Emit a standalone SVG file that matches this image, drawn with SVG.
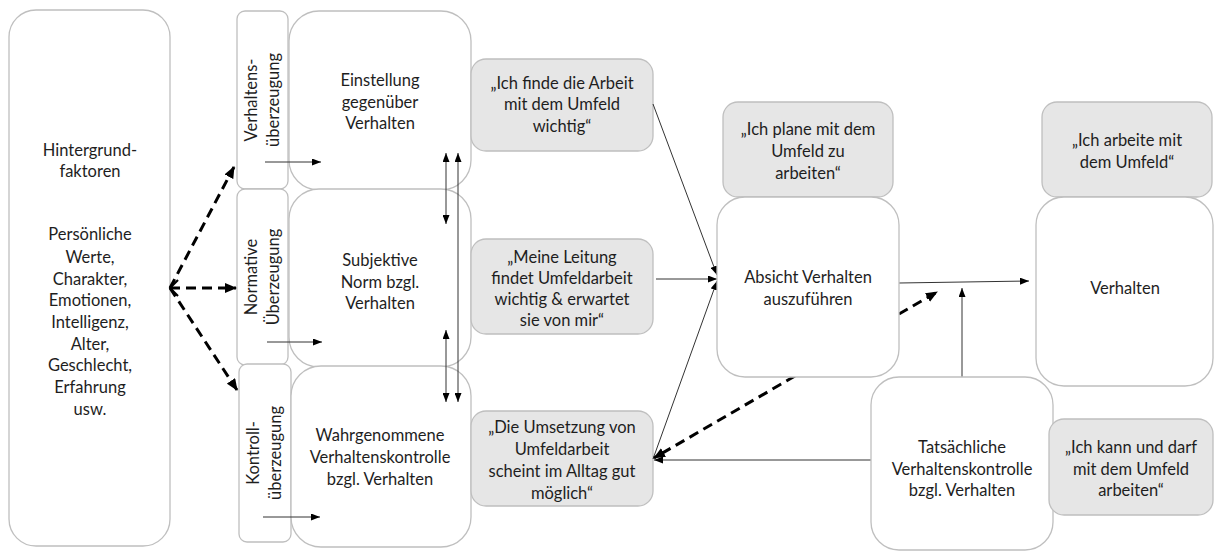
<svg xmlns="http://www.w3.org/2000/svg" width="1215" height="553" viewBox="0 0 1215 553">
<defs>
<marker id="ah" markerUnits="userSpaceOnUse" markerWidth="9" markerHeight="7" refX="9" refY="3.5" orient="auto-start-reverse"><path d="M0,0 L9,3.5 L0,7 z" fill="#000"/></marker>
<marker id="ahd" markerUnits="userSpaceOnUse" markerWidth="12" markerHeight="10" refX="11" refY="5" orient="auto-start-reverse"><path d="M0,0 L12,5 L0,10 z" fill="#000"/></marker>
<marker id="chev" markerUnits="userSpaceOnUse" markerWidth="10" markerHeight="18" refX="9" refY="9" orient="auto-start-reverse"><path d="M1,1 L9,9 L1,17" fill="none" stroke="#000" stroke-width="2.2"/></marker>
</defs>
<style>
.w{fill:#fff;stroke:#bfbfbf;stroke-width:1.3}
.g{fill:#e6e6e6;stroke:#bfbfbf;stroke-width:1.3}
text{font-family:Lato,"Liberation Sans",sans-serif;font-size:16.5px;fill:#1e1e1e;text-anchor:middle}
.c{fill:none;stroke:#333;stroke-width:1}
.d{fill:none;stroke:#000;stroke-width:3;stroke-dasharray:10,6}
</style>
<rect width="1215" height="553" fill="#fff"/>
<g id="hintergrund">
<rect class="w" x="9" y="10" width="161" height="536" rx="27"/>
<text x="90" y="156">Hintergrund-</text>
<text x="90" y="177">faktoren</text>
<text x="90" y="240">Persönliche</text>
<text x="90" y="263">Werte,</text>
<text x="90" y="285">Charakter,</text>
<text x="90" y="306">Emotionen,</text>
<text x="90" y="328">Intelligenz,</text>
<text x="90" y="350">Alter,</text>
<text x="90" y="371">Geschlecht,</text>
<text x="90" y="393">Erfahrung</text>
<text x="90" y="415">usw.</text>
</g>
<g id="tab-verhaltens">
<rect class="w" x="237" y="11" width="51" height="178" rx="8"/>
<text transform="translate(257,100) rotate(-90)">Verhaltens-</text>
<text transform="translate(279,100) rotate(-90)">überzeugung</text>
</g>
<g id="tab-normativ">
<rect class="w" x="237" y="189" width="51" height="176" rx="8"/>
<text transform="translate(257,277) rotate(-90)">Normative</text>
<text transform="translate(279,277) rotate(-90)">Überzeugung</text>
</g>
<g id="tab-kontroll">
<rect class="w" x="239" y="364" width="52" height="178" rx="8"/>
<text transform="translate(259,453) rotate(-90)">Kontroll-</text>
<text transform="translate(281,453) rotate(-90)">überzeugung</text>
</g>
<g id="einstellung">
<rect class="w" x="289" y="11" width="182" height="179" rx="30"/>
<text x="380" y="86">Einstellung</text>
<text x="380" y="108">gegenüber</text>
<text x="380" y="129">Verhalten</text>
</g>
<g id="subjektive-norm">
<rect class="w" x="289" y="189" width="182" height="178" rx="30"/>
<text x="380" y="266">Subjektive</text>
<text x="380" y="288">Norm bzgl.</text>
<text x="380" y="309">Verhalten</text>
</g>
<g id="wahrgenommene-kontrolle">
<rect class="w" x="291" y="366" width="180" height="181" rx="30"/>
<text x="380" y="441">Wahrgenommene</text>
<text x="380" y="463">Verhaltenskontrolle</text>
<text x="380" y="485">bzgl. Verhalten</text>
</g>
<g id="q-einstellung">
<rect class="g" x="471" y="59" width="182" height="92" rx="15"/>
<text x="562" y="89">„Ich finde die Arbeit</text>
<text x="562" y="110">mit dem Umfeld</text>
<text x="562" y="132">wichtig“</text>
</g>
<g id="q-norm">
<rect class="g" x="471" y="239" width="182" height="95" rx="15"/>
<text x="562" y="263">„Meine Leitung</text>
<text x="562" y="284">findet Umfeldarbeit</text>
<text x="562" y="305">wichtig &amp; erwartet</text>
<text x="562" y="326">sie von mir“</text>
</g>
<g id="q-kontrolle">
<rect class="g" x="471" y="411" width="182" height="95" rx="15"/>
<text x="562" y="433">„Die Umsetzung von</text>
<text x="562" y="455">Umfeldarbeit</text>
<text x="562" y="477">scheint im Alltag gut</text>
<text x="562" y="499">möglich“</text>
</g>
<g id="connectors">
<line class="d" x1="170" y1="288" x2="234" y2="167" marker-end="url(#ahd)"/>
<line class="d" x1="170" y1="288" x2="236" y2="288" marker-start="url(#chev)" marker-end="url(#ahd)"/>
<line class="d" x1="170" y1="288" x2="237" y2="390" marker-end="url(#ahd)"/>
<line class="c" x1="265" y1="162" x2="321" y2="162" marker-end="url(#ah)"/>
<line class="c" x1="267" y1="342" x2="322" y2="342" marker-end="url(#ah)"/>
<line class="c" x1="263" y1="517" x2="320" y2="517" marker-end="url(#ah)"/>
<line class="c" x1="446" y1="153" x2="446" y2="224" marker-start="url(#ah)" marker-end="url(#ah)"/>
<line class="c" x1="446" y1="330" x2="446" y2="402" marker-start="url(#ah)" marker-end="url(#ah)"/>
<line class="c" x1="458" y1="153" x2="458" y2="402" marker-start="url(#ah)" marker-end="url(#ah)"/>
<line class="c" x1="653" y1="104" x2="717" y2="275" marker-end="url(#ah)"/>
<line class="c" x1="656" y1="279" x2="717" y2="279" marker-end="url(#ah)"/>
<line class="c" x1="653" y1="459" x2="717" y2="281" marker-end="url(#ah)"/>
<line class="c" x1="871" y1="460" x2="654" y2="460" marker-end="url(#ah)"/>
<line class="d" x1="795" y1="376" x2="654" y2="458" marker-end="url(#ahd)"/>
<line class="d" x1="899" y1="314" x2="937" y2="292" marker-end="url(#ahd)"/>
<line class="c" x1="899" y1="283" x2="1029" y2="281" marker-end="url(#ah)"/>
<line class="c" x1="962" y1="377" x2="962" y2="288" marker-end="url(#ah)"/>
</g>
<g id="q-absicht">
<rect class="g" x="723" y="102" width="170" height="95" rx="15"/>
<text x="808" y="135">„Ich plane mit dem</text>
<text x="808" y="157">Umfeld zu</text>
<text x="808" y="179">arbeiten“</text>
</g>
<g id="absicht">
<rect class="w" x="717" y="197" width="182" height="180" rx="28"/>
<text x="808" y="283">Absicht Verhalten</text>
<text x="808" y="305">auszuführen</text>
</g>
<g id="q-verhalten">
<rect class="g" x="1042" y="102" width="170" height="95" rx="15"/>
<text x="1127" y="146">„Ich arbeite mit</text>
<text x="1127" y="168">dem Umfeld“</text>
</g>
<g id="verhalten">
<rect class="w" x="1036" y="197" width="177" height="189" rx="28"/>
<text x="1125" y="294">Verhalten</text>
</g>
<g id="tatsaechliche-kontrolle">
<rect class="w" x="871" y="377" width="182" height="173" rx="28"/>
<text x="962" y="453">Tatsächliche</text>
<text x="962" y="475">Verhaltenskontrolle</text>
<text x="962" y="496">bzgl. Verhalten</text>
</g>
<g id="q-tatsaechlich">
<rect class="g" x="1049" y="419" width="164" height="96" rx="15"/>
<text x="1131" y="453">„Ich kann und darf</text>
<text x="1131" y="475">mit dem Umfeld</text>
<text x="1131" y="496">arbeiten“</text>
</g>
</svg>
